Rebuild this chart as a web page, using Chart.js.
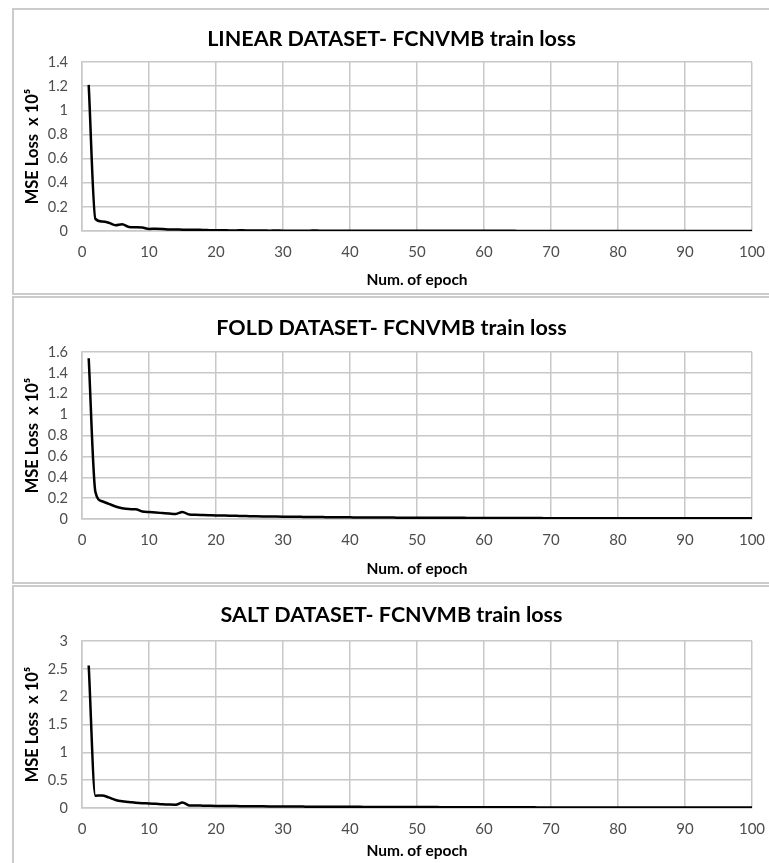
<!DOCTYPE html>
<html>
<head>
<meta charset="utf-8">
<script src="https://cdn.jsdelivr.net/npm/chart.js@4/dist/chart.umd.min.js"></script>
<style>
  html, body { margin: 0; padding: 0; background: #ffffff; }
  body { width: 769px; height: 863px; position: relative; overflow: hidden; }
  .box { position: absolute; left: 12px; width: 800px; border-left: 2px solid #cccccc; border-top: 2px solid #cccccc; border-bottom: 2px solid #cccccc; }
  canvas { position: absolute; }
</style>
</head>
<body>
<div class="box" style="top:8px;height:283px;"></div>
<div class="box" style="top:296px;height:284px;"></div>
<div class="box" style="top:585px;height:300px;"></div>
<canvas id="c1" width="755" height="282" style="left:14px;top:10px;"></canvas>
<canvas id="c2" width="755" height="283" style="left:14px;top:298px;"></canvas>
<canvas id="c3" width="755" height="276" style="left:14px;top:587px;"></canvas>
<script>
const epochs = [1,2,3,4,5,6,7,8,9,10,11,12,13,14,15,16,17,18,19,20,
  21,22,23,24,25,26,27,28,29,30,31,32,33,34,35,36,37,38,39,40,
  41,42,43,44,45,46,47,48,49,50,51,52,53,54,55,56,57,58,59,60,
  61,62,63,64,65,66,67,68,69,70,71,72,73,74,75,76,77,78,79,80,
  81,82,83,84,85,86,87,88,89,90,91,92,93,94,95,96,97,98,99,100];

const linearLoss = [1.21,0.10,0.078,0.068,0.048,0.056,0.033,0.031,0.029,0.017,
  0.019,0.017,0.013,0.012,0.011,0.010,0.011,0.008,0.007,0.006,
  0.006,0.005,0.005,0.006,0.004,0.004,0.004,0.003,0.004,0.003,
  0.003,0.003,0.002,0.003,0.004,0.002,0.002,0.002,0.002,0.002,
  0.002,0.002,0.002,0.002,0.002,0.002,0.002,0.002,0.002,0.003,
  0.002,0.002,0.002,0.002,0.002,0.002,0.002,0.002,0.002,0.002,
  0.002,0.002,0.002,0.002,0.001,0.001,0.001,0.001,0.001,0.001,
  0.001,0.001,0.001,0.001,0.001,0.001,0.001,0.001,0.001,0.001,
  0.001,0.001,0.001,0.001,0.001,0.001,0.001,0.001,0.001,0.001,
  0.001,0.001,0.001,0.001,0.001,0.001,0.001,0.001,0.001,0.001];

const foldLoss = [1.54,0.26,0.17,0.145,0.12,0.103,0.095,0.093,0.072,0.066,
  0.062,0.057,0.052,0.048,0.068,0.042,0.040,0.038,0.036,0.034,
  0.033,0.032,0.030,0.029,0.027,0.026,0.025,0.024,0.023,0.022,
  0.021,0.021,0.020,0.019,0.019,0.018,0.017,0.017,0.016,0.016,
  0.015,0.015,0.015,0.014,0.014,0.014,0.013,0.013,0.013,0.012,
  0.012,0.012,0.012,0.011,0.011,0.011,0.011,0.010,0.010,0.010,
  0.010,0.010,0.009,0.009,0.009,0.009,0.009,0.009,0.008,0.008,
  0.008,0.008,0.008,0.008,0.008,0.007,0.007,0.007,0.007,0.007,
  0.007,0.007,0.007,0.007,0.006,0.006,0.006,0.006,0.006,0.006,
  0.006,0.006,0.006,0.006,0.006,0.006,0.006,0.006,0.006,0.006];

const saltLoss = [2.56,0.22,0.225,0.19,0.145,0.12,0.108,0.093,0.085,0.083,
  0.075,0.066,0.061,0.060,0.100,0.047,0.044,0.042,0.040,0.038,
  0.037,0.036,0.034,0.033,0.032,0.031,0.030,0.029,0.028,0.027,
  0.026,0.026,0.025,0.024,0.024,0.023,0.023,0.022,0.022,0.021,
  0.021,0.020,0.020,0.019,0.019,0.018,0.018,0.018,0.017,0.017,
  0.016,0.016,0.016,0.015,0.015,0.015,0.014,0.014,0.014,0.013,
  0.013,0.013,0.013,0.012,0.012,0.012,0.012,0.011,0.011,0.011,
  0.011,0.011,0.010,0.010,0.010,0.010,0.010,0.009,0.009,0.009,
  0.009,0.009,0.009,0.008,0.008,0.008,0.008,0.008,0.008,0.008,
  0.008,0.007,0.007,0.007,0.007,0.007,0.007,0.007,0.007,0.007];

const titles = ["LINEAR DATASET- FCNVMB train loss", "FOLD DATASET- FCNVMB train loss", "SALT DATASET- FCNVMB train loss"];
const yMax = [1.4, 1.6, 3];
const yStep = [0.2, 0.2, 0.5];
const xTickStep = 10;
const xAxisTitle = "Num. of epoch";
const yAxisTitle = "MSE Loss  x 10\u2075";

const FONT = "Lato, 'Open Sans', 'Liberation Sans', sans-serif";
const GRID = "#c8c8c8";

function makeChart(id, values, idx, layout) {
  const pts = epochs.map((e, i) => ({x: e, y: values[i]}));
  return new Chart(document.getElementById(id), {
    type: 'line',
    data: { datasets: [{ data: pts, borderColor: '#000000', borderWidth: 2.5, pointRadius: 0,
      cubicInterpolationMode: 'monotone', fill: false }] },
    options: {
      responsive: false, animation: false, devicePixelRatio: 1,
      layout: { padding: 0 },
      plugins: {
        legend: { display: false }, tooltip: { enabled: false },
        title: { display: true, text: titles[idx], color: '#000000',
          font: { family: FONT, size: 21.5, weight: 'bold', lineHeight: 1.2 },
          padding: { top: layout.tTop, bottom: layout.tBottom } }
      },
      scales: {
        x: { type: 'linear', min: 0, max: 100,
          ticks: { stepSize: xTickStep, color: '#4d4d4d', padding: 12, font: { family: FONT, size: 15 }, maxRotation: 0, autoSkip: false },
          grid: { color: GRID, lineWidth: 1.5, drawTicks: false },
          border: { display: true, color: GRID, width: 1.5 },
          title: { display: true, text: xAxisTitle, color: '#000000', font: { family: FONT, size: 15.5, weight: 'bold', lineHeight: 1.2 }, padding: { top: 0, bottom: 2.7 } },
          afterFit: (s) => { s.height = layout.xH; s.paddingRight = 17; s.paddingLeft = 0; }
        },
        y: { min: 0, max: yMax[idx],
          ticks: { stepSize: yStep[idx], color: '#4d4d4d', padding: 14, font: { family: FONT, size: 14.5 }, autoSkip: false,
            callback: (v) => String(Math.round(v * 10) / 10) },
          grid: { color: GRID, lineWidth: 1.5, drawTicks: false },
          border: { display: true, color: GRID, width: 1.5 },
          title: { display: true, text: yAxisTitle, color: '#000000', font: { family: FONT, size: 16.5, weight: 'bold', lineHeight: 1.2 }, padding: { top: 9, bottom: 0 } },
          afterFit: (s) => { s.width = 68; }
        }
      }
    }
  });
}

makeChart('c1', linearLoss, 0, { tTop: 16, tBottom: 10.2, xH: 61 });
makeChart('c2', foldLoss, 1, { tTop: 17, tBottom: 11.2, xH: 62 });
makeChart('c3', saltLoss, 2, { tTop: 15, tBottom: 13.2, xH: 55 });
</script>
</body>
</html>
